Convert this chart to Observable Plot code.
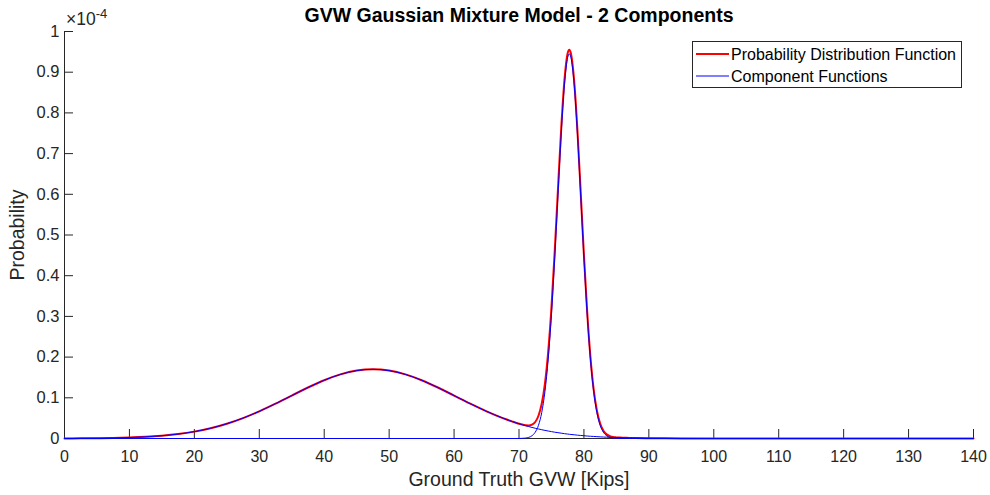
<!DOCTYPE html>
<html>
<head>
<meta charset="utf-8">
<script src="https://cdn.jsdelivr.net/npm/d3@7"></script>
<script src="https://cdn.jsdelivr.net/npm/@observablehq/plot@0.6"></script>
<style>
  html, body { margin: 0; padding: 0; background: #fff; }
  #chart svg { display: block; }
</style>
</head>
<body>
<div id="chart"></div>
<script>
// GVW sample positions [kips]; finer spacing around the narrow second component
const gvw = [
  0, 2.5, 5, 7.5, 10, 12.5, 15, 17.5, 20, 22.5, 25, 27.5, 30, 32.5, 35, 37.5,
  40, 42.5, 45, 47.5, 50, 52.5, 55, 57.5, 60, 62.5, 65, 67.5,
  68, 68.5, 69, 69.5, 70, 70.5, 71, 71.5, 72, 72.5, 73, 73.5, 74, 74.5, 75, 75.5,
  76, 76.5, 77, 77.5, 77.75, 78, 78.5, 79, 79.5, 80, 80.5, 81, 81.5, 82, 82.5,
  83, 83.5, 84, 84.5, 85, 85.5, 86, 86.5, 87, 87.5, 88,
  90, 92.5, 95, 97.5, 100, 105, 110, 120, 130, 140
];

// Mixture density (×1e-4)
const pdf = [
  0.0002, 0.0004, 0.0007, 0.0013, 0.0023, 0.0040, 0.0068, 0.0109, 0.0169, 0.0252,
  0.0363, 0.0502, 0.0668, 0.0856, 0.1055, 0.1253, 0.1432, 0.1575, 0.1668, 0.1700,
  0.1668, 0.1575, 0.1432, 0.1253, 0.1055, 0.0856, 0.0668, 0.0502,
  0.0472, 0.0443, 0.0415, 0.0388, 0.0364, 0.0342, 0.0325, 0.0321, 0.0340, 0.0406,
  0.0559, 0.0853, 0.1357, 0.2136, 0.3224, 0.4593, 0.6125, 0.7615, 0.8808, 0.9471,
  0.9554, 0.9461, 0.8780, 0.7566, 0.6057, 0.4506, 0.3116, 0.2007, 0.1208, 0.0682,
  0.0365, 0.0190, 0.0101, 0.0057, 0.0036, 0.0027, 0.0022, 0.0018, 0.0016, 0.0015,
  0.0013, 0.0011,
  0.0007, 0.0004, 0.0002, 0.0001, 0, 0, 0, 0, 0, 0
];

// First (broad) component (×1e-4)
const component1 = [
  0.0002, 0.0004, 0.0007, 0.0013, 0.0023, 0.0040, 0.0068, 0.0109, 0.0169, 0.0252,
  0.0363, 0.0502, 0.0668, 0.0856, 0.1055, 0.1253, 0.1432, 0.1575, 0.1668, 0.1700,
  0.1668, 0.1575, 0.1432, 0.1253, 0.1055, 0.0856, 0.0668, 0.0502,
  0.0472, 0.0443, 0.0415, 0.0388, 0.0363, 0.0338, 0.0315, 0.0293, 0.0272, 0.0252,
  0.0234, 0.0216, 0.0199, 0.0184, 0.0169, 0.0155, 0.0143, 0.0131, 0.0119, 0.0109,
  0.0104, 0.0099, 0.0091, 0.0082, 0.0075, 0.0068, 0.0061, 0.0055, 0.0050, 0.0045,
  0.0040, 0.0036, 0.0033, 0.0029, 0.0026, 0.0023, 0.0021, 0.0018, 0.0016, 0.0015,
  0.0013, 0.0011,
  0.0007, 0.0004, 0.0002, 0.0001, 0, 0, 0, 0, 0, 0
];

// Second (narrow) component (×1e-4)
const component2 = [
  0, 0, 0, 0, 0, 0, 0, 0, 0, 0, 0, 0, 0, 0, 0, 0, 0, 0, 0, 0,
  0, 0, 0, 0, 0, 0, 0, 0,
  0, 0, 0, 0, 0.0001, 0.0004, 0.0010, 0.0028, 0.0068, 0.0154,
  0.0325, 0.0637, 0.1158, 0.1952, 0.3055, 0.4438, 0.5982, 0.7484, 0.8689, 0.9362,
  0.9450, 0.9362, 0.8689, 0.7484, 0.5982, 0.4438, 0.3055, 0.1952, 0.1158, 0.0637,
  0.0325, 0.0154, 0.0068, 0.0028, 0.0010, 0.0004, 0.0001, 0, 0, 0,
  0, 0,
  0, 0, 0, 0, 0, 0, 0, 0, 0, 0
];

const xTicks = [0, 10, 20, 30, 40, 50, 60, 70, 80, 90, 100, 110, 120, 130, 140];
const yTicks = [0, 0.1, 0.2, 0.3, 0.4, 0.5, 0.6, 0.7, 0.8, 0.9, 1];

const titleText = "GVW Gaussian Mixture Model - 2 Components";
const xLabel = "Ground Truth GVW [Kips]";
const yLabel = "Probability";
const legendItems = [
  {label: "Probability Distribution Function", color: "#ff0000", width: 2},
  {label: "Component Functions", color: "#0000ff", width: 1}
];

const rows = gvw.map((x, i) => ({x, pdf: pdf[i], c1: component1[i], c2: component2[i]}));

const axisColor = "#262626";
const font = "'Liberation Sans', Arial, Helvetica, sans-serif";

const chart = Plot.plot({
  width: 990,
  height: 495,
  marginLeft: 64,
  marginRight: 17,
  marginTop: 31,
  marginBottom: 57,
  style: {fontFamily: font, fontSize: "16px", color: axisColor, background: "#fff"},
  x: {domain: [0, 140]},
  y: {domain: [0, 1]},
  marks: [
    Plot.ruleY([0], {stroke: axisColor, strokeWidth: 1}),
    Plot.ruleX([0], {stroke: axisColor, strokeWidth: 1}),
    Plot.axisX(xTicks, {tickSize: -9, tickPadding: 21, label: null, fontSize: 16}),
    Plot.axisY(yTicks, {
      tickSize: -9, tickPadding: 14, label: null, fontSize: 16.5,
      tickFormat: d => String(+d.toFixed(1))
    }),
    Plot.line(rows, {x: "x", y: "pdf", stroke: "#ff0000", strokeWidth: 2, curve: "monotone-x"}),
    Plot.line(rows, {x: "x", y: "c1", stroke: "#0000ff", strokeWidth: 1, curve: "monotone-x"}),
    Plot.line(rows, {x: "x", y: "c2", stroke: "#0000ff", strokeWidth: 1, curve: "monotone-x"}),
    Plot.text([titleText], {
      frameAnchor: "top", dy: -15.5, lineAnchor: "middle", textAnchor: "middle",
      fontWeight: "bold", fontSize: 19.5, fill: "#000"
    }),
    Plot.text([xLabel], {
      frameAnchor: "bottom", dy: 41.5, lineAnchor: "middle", textAnchor: "middle",
      fontSize: 19.5, fill: axisColor
    }),
    Plot.text([yLabel], {
      frameAnchor: "left", dx: -46.5, rotate: -90, lineAnchor: "middle", textAnchor: "middle",
      fontSize: 19.5, fill: axisColor
    })
  ]
});

document.getElementById("chart").appendChild(chart);

const svg = d3.select(chart);
const xs = chart.scale("x"), ys = chart.scale("y");

// Scale exponent above the y axis
const expo = svg.append("text")
  .attr("x", xs.apply(0) + 2)
  .attr("y", ys.apply(1) - 6)
  .attr("fill", axisColor)
  .attr("text-anchor", "start")
  .style("font-family", font)
  .style("font-size", "17.5px");
expo.append("tspan").text("×10");
expo.append("tspan").attr("dy", -7).style("font-size", "13px").text("-4");

// Legend box, top-right of the axes
const lg = svg.append("g").attr("transform", `translate(${xs.apply(140) - 281},${ys.apply(1) + 10})`);
lg.append("rect")
  .attr("x", 0.5).attr("y", 0.5).attr("width", 269).attr("height", 46)
  .attr("fill", "#fff").attr("stroke", axisColor).attr("stroke-width", 1);
legendItems.forEach((d, i) => {
  const cy = 13 + i * 22;
  lg.append("line")
    .attr("x1", 4).attr("x2", 37).attr("y1", cy).attr("y2", cy)
    .attr("stroke", d.color).attr("stroke-width", d.width);
  lg.append("text")
    .attr("x", 39).attr("y", cy).attr("dy", "0.35em")
    .attr("text-anchor", "start")
    .attr("fill", "#000")
    .style("font-family", font)
    .style("font-size", "16px")
    .text(d.label);
});
</script>
</body>
</html>
